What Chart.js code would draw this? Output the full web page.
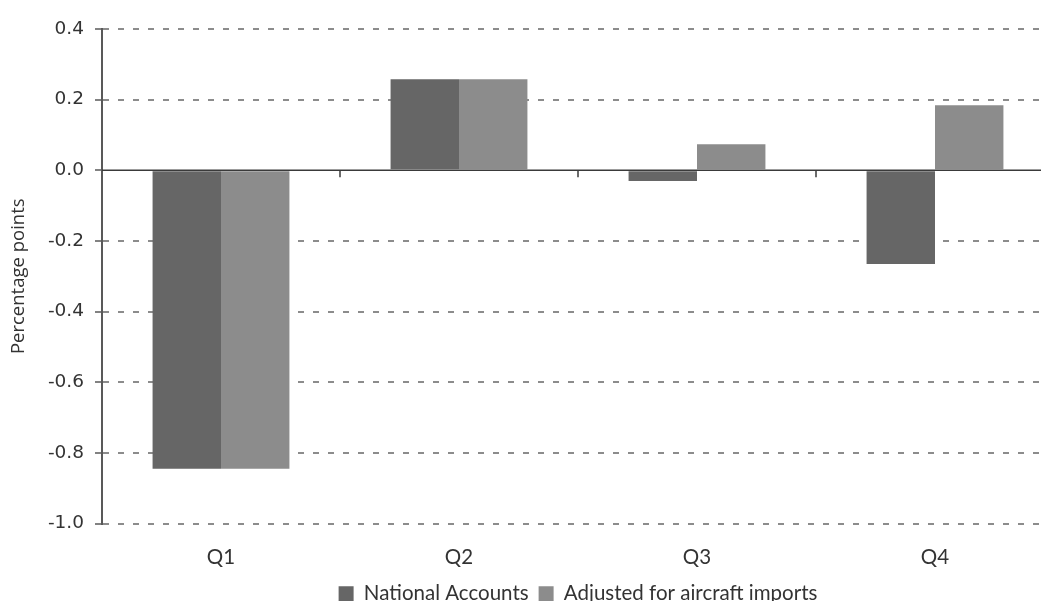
<!DOCTYPE html>
<html>
<head>
<meta charset="utf-8">
<script src="https://cdn.jsdelivr.net/npm/chart.js@4"></script>
<style>
html,body{margin:0;padding:0;overflow:hidden;background:#fff;}
#wrap{position:relative;width:1056px;height:614px;}
</style>
</head>
<body>
<div id="wrap"><canvas id="c"></canvas></div>
<script>
const categories = ["Q1", "Q2", "Q3", "Q4"];
const nationalAccounts = [-0.845, 0.258, -0.030, -0.265];
const adjustedAircraft = [-0.845, 0.258, 0.074, 0.184];
const seriesNames = ["National Accounts", "Adjusted for aircraft imports"];
const yTicks = [0.4, 0.2, 0.0, -0.2, -0.4, -0.6, -0.8, -1.0];

const zeroAndTicks = {
  id: 'zeroAndTicks',
  afterDatasetsDraw(chart) {
    const {ctx, chartArea, scales} = chart;
    const x = scales.x, y = scales.y;
    const y0 = y.getPixelForValue(0);
    ctx.save();
    ctx.strokeStyle = '#3a3a3a';
    ctx.lineWidth = 1.5;
    ctx.beginPath();
    ctx.moveTo(chartArea.left, y0);
    ctx.lineTo(chartArea.right, y0);
    ctx.stroke();
    for (let i = 1; i < categories.length; i++) {
      const bx = (x.getPixelForTick(i - 1) + x.getPixelForTick(i)) / 2;
      ctx.beginPath();
      ctx.moveTo(bx, y0);
      ctx.lineTo(bx, y0 + 7);
      ctx.stroke();
    }
    ctx.restore();
  }
};

new Chart(document.getElementById('c'), {
  type: 'bar',
  data: {
    labels: categories,
    datasets: [
      {label: seriesNames[0], data: nationalAccounts, backgroundColor: '#666666', borderWidth: 0},
      {label: seriesNames[1], data: adjustedAircraft, backgroundColor: '#8c8c8c', borderWidth: 0}
    ]
  },
  options: {
    responsive: true,
    maintainAspectRatio: false,
    animation: false,
    layout: {padding: {top: 29, right: 2, left: 0, bottom: 0}},
    datasets: {bar: {categoryPercentage: 0.575, barPercentage: 1.0}},
    plugins: {
      tooltip: {enabled: false},
      legend: {
        position: 'bottom',
        fullSize: false,
        labels: {
          boxWidth: 15, boxHeight: 15, padding: 10,
          color: '#333333',
          font: {family: 'Lato', size: 20.5}
        }
      }
    },
    scales: {
      x: {
        grid: {display: false},
        border: {display: false},
        afterFit(scale) { scale.height = 50; },
        ticks: {color: '#333333', padding: 14, font: {family: 'Lato', size: 20.5}}
      },
      y: {
        min: -1.0, max: 0.4,
        afterBuildTicks(scale) { scale.ticks = yTicks.map(v => ({value: v})); },
        afterFit(scale) { scale.width = 102; },
        title: {display: true, text: 'Percentage points', color: '#333333', font: {family: 'Open Sans', size: 18.5}, padding: {top: 8, bottom: 0}},
        grid: {
          color: ctx => (ctx.tick && Math.abs(ctx.tick.value) < 1e-9) ? 'rgba(0,0,0,0)' : '#8c8c8c',
          lineWidth: 2,
          tickColor: '#595959',
          tickWidth: 1.5,
          tickLength: 7
        },
        border: {display: true, color: '#595959', width: 2, dash: [6, 9]},
        ticks: {
          color: '#333333',
          padding: 11,
          font: {family: 'DejaVu Sans', size: 18.5},
          callback: v => Number(v).toFixed(1)
        }
      }
    }
  },
  plugins: [zeroAndTicks]
});
</script>
</body>
</html>
